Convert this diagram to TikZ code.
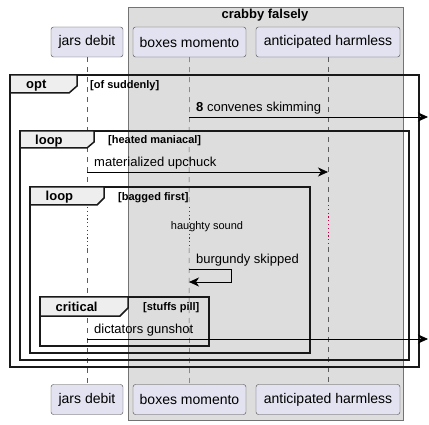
\documentclass[tikz,border=0pt]{standalone}
\usepackage{fontspec}
\setmainfont{Liberation Sans}
\usetikzlibrary{arrows.meta, positioning}
\definecolor{partfill}{HTML}{E2E2F0}
\definecolor{partline}{HTML}{181818}
\definecolor{groupfill}{HTML}{DDDDDD}
\definecolor{tabfill}{HTML}{EEEEEE}
\definecolor{delayred}{HTML}{C0004A}

\tikzset{
	participant/.style = {draw = partline!80, fill = partfill, rounded corners = 2.5pt, minimum height = 30pt, inner sep = 0pt, font = \fontsize{14}{16}\selectfont},
	lifeline/.style = {draw = partline!70, dash pattern = on 5pt off 5pt, line width = 0.5pt},
	delayline/.style = {draw = delayred, dash pattern = on 1.2pt off 2.6pt, line width = 1pt},
	fragbox/.style = {draw = black!90, line width = 1.5pt},
	fragtab/.style = {draw = black!90, fill = tabfill, line width = 1.5pt},
	msg/.style = {-{Stealth[length = 10pt, width = 9pt, inset = 3pt]}, line width = 0.8pt},
	msgtext/.style = {anchor = base west, inner sep = 0pt, font = \fontsize{13}{15}\selectfont},
	tabtext/.style = {anchor = base west, inner sep = 0pt, font = \bfseries\fontsize{13}{15}\selectfont},
	guardtext/.style = {anchor = base west, inner sep = 0pt, font = \bfseries\fontsize{11}{13}\selectfont}
}

\begin{document}
\begin{tikzpicture}[x = 1pt, y = -1pt]
		\useasboundingbox (0,0) rectangle (429,425);
		% group box
		\draw[fill = groupfill, draw = black!55] (128,7) rectangle (403,420);
		\node[font = \bfseries\fontsize{13}{15}\selectfont, inner sep = 0pt] (grp) at (265,15) {crabby falsely};
		% participants
		\node[participant, minimum width = 72pt] (jd) at (87,42) {jars debit};
		\node[participant, minimum width = 113pt] (bm) at (189.5,42) {boxes momento};
		\node[participant, minimum width = 144pt] (ah) at (328,42) {anticipated harmless};
		\node[participant, minimum width = 72pt] (jdb) at (87,399.5) {jars debit};
		\node[participant, minimum width = 113pt] (bmb) at (189.5,399.5) {boxes momento};
		\node[participant, minimum width = 144pt] (ahb) at (328,399.5) {anticipated harmless};
		% lifelines, dotted where the delay is
		\coordinate (jdd1) at (87,207);
		\coordinate (jdd2) at (87,248);
		\coordinate (bmd1) at (189,207);
		\coordinate (bmd2) at (189,248);
		\coordinate (ahd1) at (328,205);
		\coordinate (ahd2) at (328,247);
		\draw[lifeline] (jd) -- (jdd1);
		\draw[delayline] (jdd1) -- (jdd2);
		\draw[lifeline] (jdd2) -- (jdb);
		\draw[lifeline] (bm) -- (bmd1);
		\draw[delayline] (bmd1) -- (bmd2);
		\draw[lifeline] (bmd2) -- (bmb);
		\draw[lifeline] (ah) -- (ahd1);
		\draw[delayline] (ahd1) -- (ahd2);
		\draw[lifeline] (ahd2) -- (ahb);
		% opt
		\draw[fragbox] (10,75) rectangle (419,367);
		\draw[fragtab] (10,75) -- (77,75) -- (77,86) -- (69,93) -- (10,93) -- cycle;
		\node[tabtext] (optlbl) at (26,89) {opt};
		\node[guardtext] (optgrd) at (90,89) {[of suddenly]};
		% loop, heated maniacal
		\draw[fragbox] (20,131) rectangle (409,360);
		\draw[fragtab] (20,131) -- (94,131) -- (94,142) -- (87,148) -- (20,148) -- cycle;
		\node[tabtext] (loopalbl) at (35,144.5) {loop};
		\node[guardtext] (loopagrd) at (108,143.5) {[heated maniacal]};
		% loop, bagged first
		\draw[fragbox] (30,187) rectangle (310,353);
		\draw[fragtab] (30,187) -- (104,187) -- (104,198) -- (97,205) -- (30,205) -- cycle;
		\node[tabtext] (loopblbl) at (45.5,201) {loop};
		\node[guardtext] (loopbgrd) at (118,200.5) {[bagged first]};
		% critical
		\draw[fragbox] (40,297) rectangle (209,346);
		\draw[fragtab] (40,297) -- (128,297) -- (128,308) -- (120,316) -- (40,316) -- cycle;
		\node[tabtext] (critlbl) at (55.5,312) {critical};
		\node[guardtext] (critgrd) at (143,311) {[stuffs pill]};
		% messages
		\coordinate (m1a) at (189,117);
		\coordinate (m1b) at (428,117);
		\draw[msg] (m1a) -- (m1b);
		\node[msgtext] (m1lbl) at (196,112) {\textbf{8} convenes skimming};
		\coordinate (m2a) at (87,172);
		\coordinate (m2b) at (328,172);
		\draw[msg] (m2a) -- (m2b);
		\node[msgtext] (m2lbl) at (94,167) {materialized upchuck};
		\node[inner sep = 0pt, font = \fontsize{11}{13}\selectfont] (delay) at (207,227) {haughty sound};
		\coordinate (m3a) at (189,269);
		\coordinate (m3b) at (189,282);
		\draw[msg] (m3a) -- ++(42,0) |- (m3b);
		\node[msgtext] (m3lbl) at (196,264) {burgundy skipped};
		\coordinate (m4a) at (87,339);
		\coordinate (m4b) at (428,339);
		\draw[msg] (m4a) -- (m4b);
		\node[msgtext] (m4lbl) at (94,334) {dictators gunshot};
	\end{tikzpicture}
\end{document}
